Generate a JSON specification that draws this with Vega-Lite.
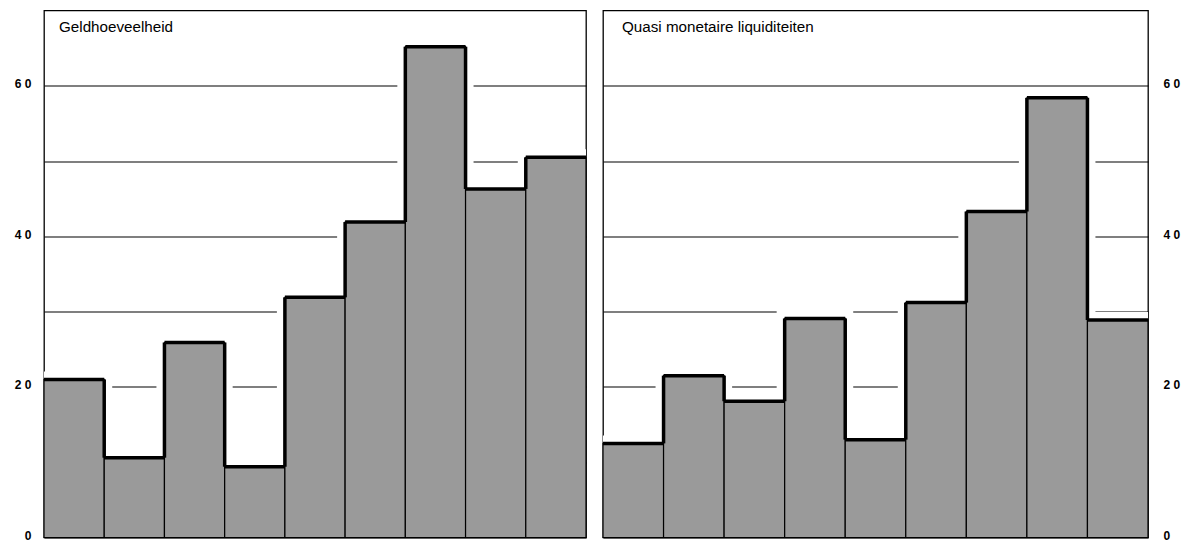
{
  "$schema": "https://vega.github.io/schema/vega-lite/v6.json",
  "padding": {"left": 0, "top": 9.5, "right": 0, "bottom": 0},
  "spacing": 11,
  "background": "white",
  "config": {
    "view": {"stroke": "black", "strokeWidth": 1.3},
    "font": "Liberation Sans"
  },
  "datasets": {
    "geld": [
      {"i": 1, "v": 21.0}, {"i": 2, "v": 10.6}, {"i": 3, "v": 25.9},
      {"i": 4, "v": 9.4}, {"i": 5, "v": 31.9}, {"i": 6, "v": 41.9},
      {"i": 7, "v": 65.2}, {"i": 8, "v": 46.3}, {"i": 9, "v": 50.5}
    ],
    "quasi": [
      {"i": 1, "v": 12.5}, {"i": 2, "v": 21.5}, {"i": 3, "v": 18.1},
      {"i": 4, "v": 29.1}, {"i": 5, "v": 13.0}, {"i": 6, "v": 31.2},
      {"i": 7, "v": 43.3}, {"i": 8, "v": 58.4}, {"i": 9, "v": 28.9}
    ]
  },
  "hconcat": [
    {
      "width": 542,
      "height": 527,
      "encoding": {
        "x": {"field": "i", "type": "ordinal", "axis": null,
              "scale": {"paddingInner": 0, "paddingOuter": 0}},
        "y": {"field": "v", "type": "quantitative",
              "scale": {"domain": [0, 70], "nice": false},
              "axis": {"orient": "left", "title": null, "domain": false, "ticks": false,
                       "values": [0, 10, 20, 30, 40, 50, 60],
                       "labelExpr": "datum.value == 0 ? '0' : datum.value == 20 ? '2 0' : datum.value == 40 ? '4 0' : datum.value == 60 ? '6 0' : ''",
                       "labelFont": "Liberation Sans", "labelFontWeight": "bold", "labelFontSize": 12,
                       "labelColor": "black", "labelPadding": 13, "labelOffset": -2,
                       "minExtent": 43, "maxExtent": 43,
                       "grid": true, "gridColor": "black", "gridOpacity": 1, "gridWidth": 1.2}}
      },
      "layer": [
        {"data": {"name": "geld"},
         "mark": {"type": "bar", "fill": "white", "stroke": "white", "strokeWidth": 16, "clip": true}},
        {"data": {"name": "geld"},
         "mark": {"type": "bar", "fill": "#9a9a9a", "stroke": "black", "strokeWidth": 1.2}},
        {"data": {"name": "geld"},
         "mark": {"type": "bar", "fill": null, "stroke": "black", "strokeWidth": 3.5},
         "encoding": {"y2": {"field": "v"}}},
        {"data": {"name": "geld"},
         "transform": [
           {"window": [{"op": "lag", "field": "v", "as": "prev"}], "sort": [{"field": "i"}]},
           {"filter": "datum.prev != null"}
         ],
         "mark": {"type": "rule", "stroke": "black", "strokeWidth": 3.5},
         "encoding": {"x": {"field": "i", "type": "ordinal", "bandPosition": 0},
                      "y": {"field": "prev", "type": "quantitative"},
                      "y2": {"field": "v"}}},
        {"data": {"values": [{"i": 1, "top": 70, "t": "Geldhoeveelheid"}]},
         "mark": {"type": "text", "align": "left", "baseline": "middle", "dx": 15, "dy": 16,
                  "fontSize": 15.2, "font": "Liberation Sans", "fill": "black"},
         "encoding": {"x": {"field": "i", "type": "ordinal", "bandPosition": 0},
                      "y": {"field": "top", "type": "quantitative"},
                      "text": {"field": "t", "type": "nominal"}}}
      ]
    },
    {
      "width": 545,
      "height": 527,
      "encoding": {
        "x": {"field": "i", "type": "ordinal", "axis": null,
              "scale": {"paddingInner": 0, "paddingOuter": 0}},
        "y": {"field": "v", "type": "quantitative",
              "scale": {"domain": [0, 70], "nice": false},
              "axis": {"orient": "right", "title": null, "domain": false, "ticks": false,
                       "values": [0, 10, 20, 30, 40, 50, 60],
                       "labelExpr": "datum.value == 0 ? '0' : datum.value == 20 ? '2 0' : datum.value == 40 ? '4 0' : datum.value == 60 ? '6 0' : ''",
                       "labelFont": "Liberation Sans", "labelFontWeight": "bold", "labelFontSize": 12,
                       "labelColor": "black", "labelPadding": 15, "labelOffset": -2,
                       "grid": true, "gridColor": "black", "gridOpacity": 1, "gridWidth": 1.2}}
      },
      "layer": [
        {"data": {"name": "quasi"},
         "mark": {"type": "bar", "fill": "white", "stroke": "white", "strokeWidth": 16, "clip": true}},
        {"data": {"name": "quasi"},
         "mark": {"type": "bar", "fill": "#9a9a9a", "stroke": "black", "strokeWidth": 1.2}},
        {"data": {"name": "quasi"},
         "mark": {"type": "bar", "fill": null, "stroke": "black", "strokeWidth": 3.5},
         "encoding": {"y2": {"field": "v"}}},
        {"data": {"name": "quasi"},
         "transform": [
           {"window": [{"op": "lag", "field": "v", "as": "prev"}], "sort": [{"field": "i"}]},
           {"filter": "datum.prev != null"}
         ],
         "mark": {"type": "rule", "stroke": "black", "strokeWidth": 3.5},
         "encoding": {"x": {"field": "i", "type": "ordinal", "bandPosition": 0},
                      "y": {"field": "prev", "type": "quantitative"},
                      "y2": {"field": "v"}}},
        {"data": {"values": [{"i": 1, "top": 70, "t": "Quasi monetaire liquiditeiten"}]},
         "mark": {"type": "text", "align": "left", "baseline": "middle", "dx": 19, "dy": 16,
                  "fontSize": 15.2, "font": "Liberation Sans", "fill": "black"},
         "encoding": {"x": {"field": "i", "type": "ordinal", "bandPosition": 0},
                      "y": {"field": "top", "type": "quantitative"},
                      "text": {"field": "t", "type": "nominal"}}}
      ]
    }
  ]
}
